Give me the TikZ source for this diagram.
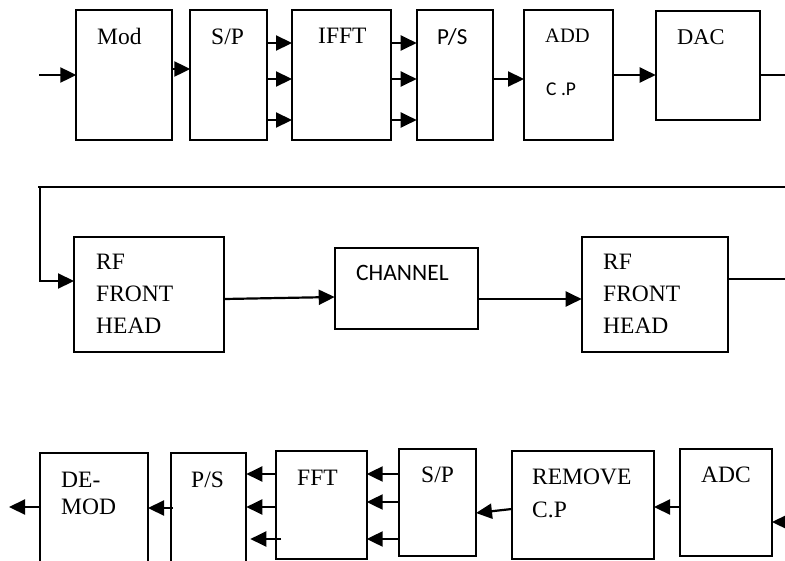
\documentclass[tikz,border=0pt]{standalone}
\usepackage{fontspec}
\setmainfont{Liberation Serif}
\newfontfamily\calibfont{Carlito}
\usetikzlibrary{arrows.meta}
\tikzset{
  blk/.style={draw, line width=1.7pt, inner sep=0pt, outer sep=0pt, anchor=north west},
  txt/.style={anchor=base west, inner sep=0pt, font=\fontsize{23.5}{28}\selectfont},
  txtsm/.style={anchor=base west, inner sep=0pt, font=\fontsize{20.5}{24}\selectfont},
  stxt/.style={anchor=base west, inner sep=0pt, font=\calibfont\fontsize{23}{26}\selectfont},
  arr/.style={line width=2.2pt, -{Triangle[length=16pt,width=15pt]}},
  ln/.style={line width=2.2pt}
}
\newcommand{\blkbox}[5]{%
  \pgfmathsetmacro{\bw}{#4-#2}\pgfmathsetmacro{\bh}{#5-#3}%
  \node[blk, minimum width=\bw pt, minimum height=\bh pt] (#1) at (#2,#3) {};}
\begin{document}
\begin{tikzpicture}[x=1pt,y=-1pt]
\useasboundingbox (0,0) rectangle (785,560);
\begin{scope}
\clip (0,0) rectangle (785,560);
% row 1
\blkbox{mod}{76.3}{10.3}{172}{140}
\blkbox{spa}{190.3}{10.3}{266.7}{140}
\blkbox{ifft}{292}{10.3}{391}{140}
\blkbox{psa}{416.7}{10.3}{493.3}{140}
\blkbox{addcp}{524}{10.3}{612.7}{140}
\blkbox{dac}{655.7}{11}{760}{120}
% row 2
\blkbox{rfa}{74}{236.7}{224.3}{351.7}
\blkbox{chan}{334.7}{247.7}{478}{329}
\blkbox{rfb}{581.7}{236.7}{727.7}{351.7}
% row 3
\blkbox{demod}{40}{453}{148}{575}
\blkbox{psb}{170.7}{453}{246.3}{575}
\blkbox{fft}{276}{451.3}{366.7}{558.7}
\blkbox{spb}{399.3}{449}{476}{556}
\blkbox{remcp}{511.7}{451}{654}{558.7}
\blkbox{adc}{680}{449}{772}{556}

% labels
\node[txt] (tmod) at (97,44) {Mod};
\node[txt] (tspa) at (211,44) {S/P};
\node[txt] (tifft) at (318,43) {IFFT};
\node[stxt] (tpsa) at (437,44) {P/S};
\node[txtsm] (tadd) at (545,42) {ADD};
\node[stxt, font=\calibfont\fontsize{19.5}{22}\selectfont] (tcp) at (546,95) {C .P};
\node[txt, font=\fontsize{22.5}{26}\selectfont] (tdac) at (677,44) {DAC};

\node[txt] (trfa1) at (96,269) {RF};
\node[txt] (trfa2) at (96,301) {FRONT};
\node[txt] (trfa3) at (96,333) {HEAD};
\node[stxt, font=\calibfont\fontsize{23.5}{26}\selectfont] (tchan) at (356,280) {CHANNEL};
\node[txt] (trfb1) at (603,269) {RF};
\node[txt] (trfb2) at (603,301) {FRONT};
\node[txt] (trfb3) at (603,333) {HEAD};

\node[txt] (tde) at (61,487) {DE-};
\node[txt] (tmodb) at (61,514) {MOD};
\node[txt] (tpsb) at (191,487) {P/S};
\node[txt] (tfft) at (297,485) {FFT};
\node[txt] (tspb) at (421,482) {S/P};
\node[txt] (trem) at (532,484) {REMOVE};
\node[txt] (tremcp) at (532,517) {C.P};
\node[txt] (tadc) at (701,482) {ADC};

% coordinates at the picture edges
\coordinate (in) at (39,75);
\coordinate (dacout) at (785,75);
\coordinate (topr) at (785,187);
\coordinate (topl) at (38,187);
\coordinate (rfbout) at (785,279);
\coordinate (adcin) at (785,522);
\coordinate (out) at (9,507);

% row 1 connectors
\draw[arr] (in) -- (mod.west |- in);
\draw[arr] (mod.east |- 0,69) -- (spa.west |- 0,69);
\foreach \yy in {43,79,120} {
  \draw[arr] (spa.east |- 0,\yy) -- (ifft.west |- 0,\yy);
  \draw[arr] (ifft.east |- 0,\yy) -- (psa.west |- 0,\yy);
}
\draw[arr] (psa.east |- 0,79) -- (addcp.west |- 0,79);
\draw[arr] (addcp.east |- 0,75) -- (dac.west |- 0,75);
\draw[ln] (dac.east |- dacout) -- (dacout);

% row 2 connectors
\draw[ln] (topr) -- (topl);
\draw[arr] (40,187) -- (40,281) -- (rfa.west |- 0,281);
\draw[arr] (rfa.east |- 0,299) -- (chan.west |- 0,297);
\draw[arr] (chan.east |- 0,299) -- (rfb.west |- 0,299);
\draw[ln] (rfb.east |- rfbout) -- (rfbout);

% row 3 connectors
\draw[arr] (adcin) -- (adc.east |- adcin);
\draw[arr] (adc.west |- 0,507) -- (remcp.east |- 0,507);
\draw[arr] (remcp.west |- 0,509) -- (spb.east |- 0,513);
\draw[arr] (spb.west |- 0,474) -- (fft.east |- 0,474);
\draw[arr] (spb.west |- 0,502) -- (fft.east |- 0,502);
\draw[arr] (spb.west |- 0,539) -- (fft.east |- 0,539);
\draw[arr] (fft.west |- 0,474) -- (psb.east |- 0,474);
\draw[arr] (fft.west |- 0,507) -- (psb.east |- 0,507);
\draw[arr] ([xshift=5pt]fft.west |- 0,539) -- ([xshift=4pt]psb.east |- 0,539);
\draw[arr] ([xshift=2pt]psb.west |- 0,508) -- (demod.east |- 0,508);
\draw[arr] (demod.west |- out) -- (out);
\end{scope}
\end{tikzpicture}
\end{document}
